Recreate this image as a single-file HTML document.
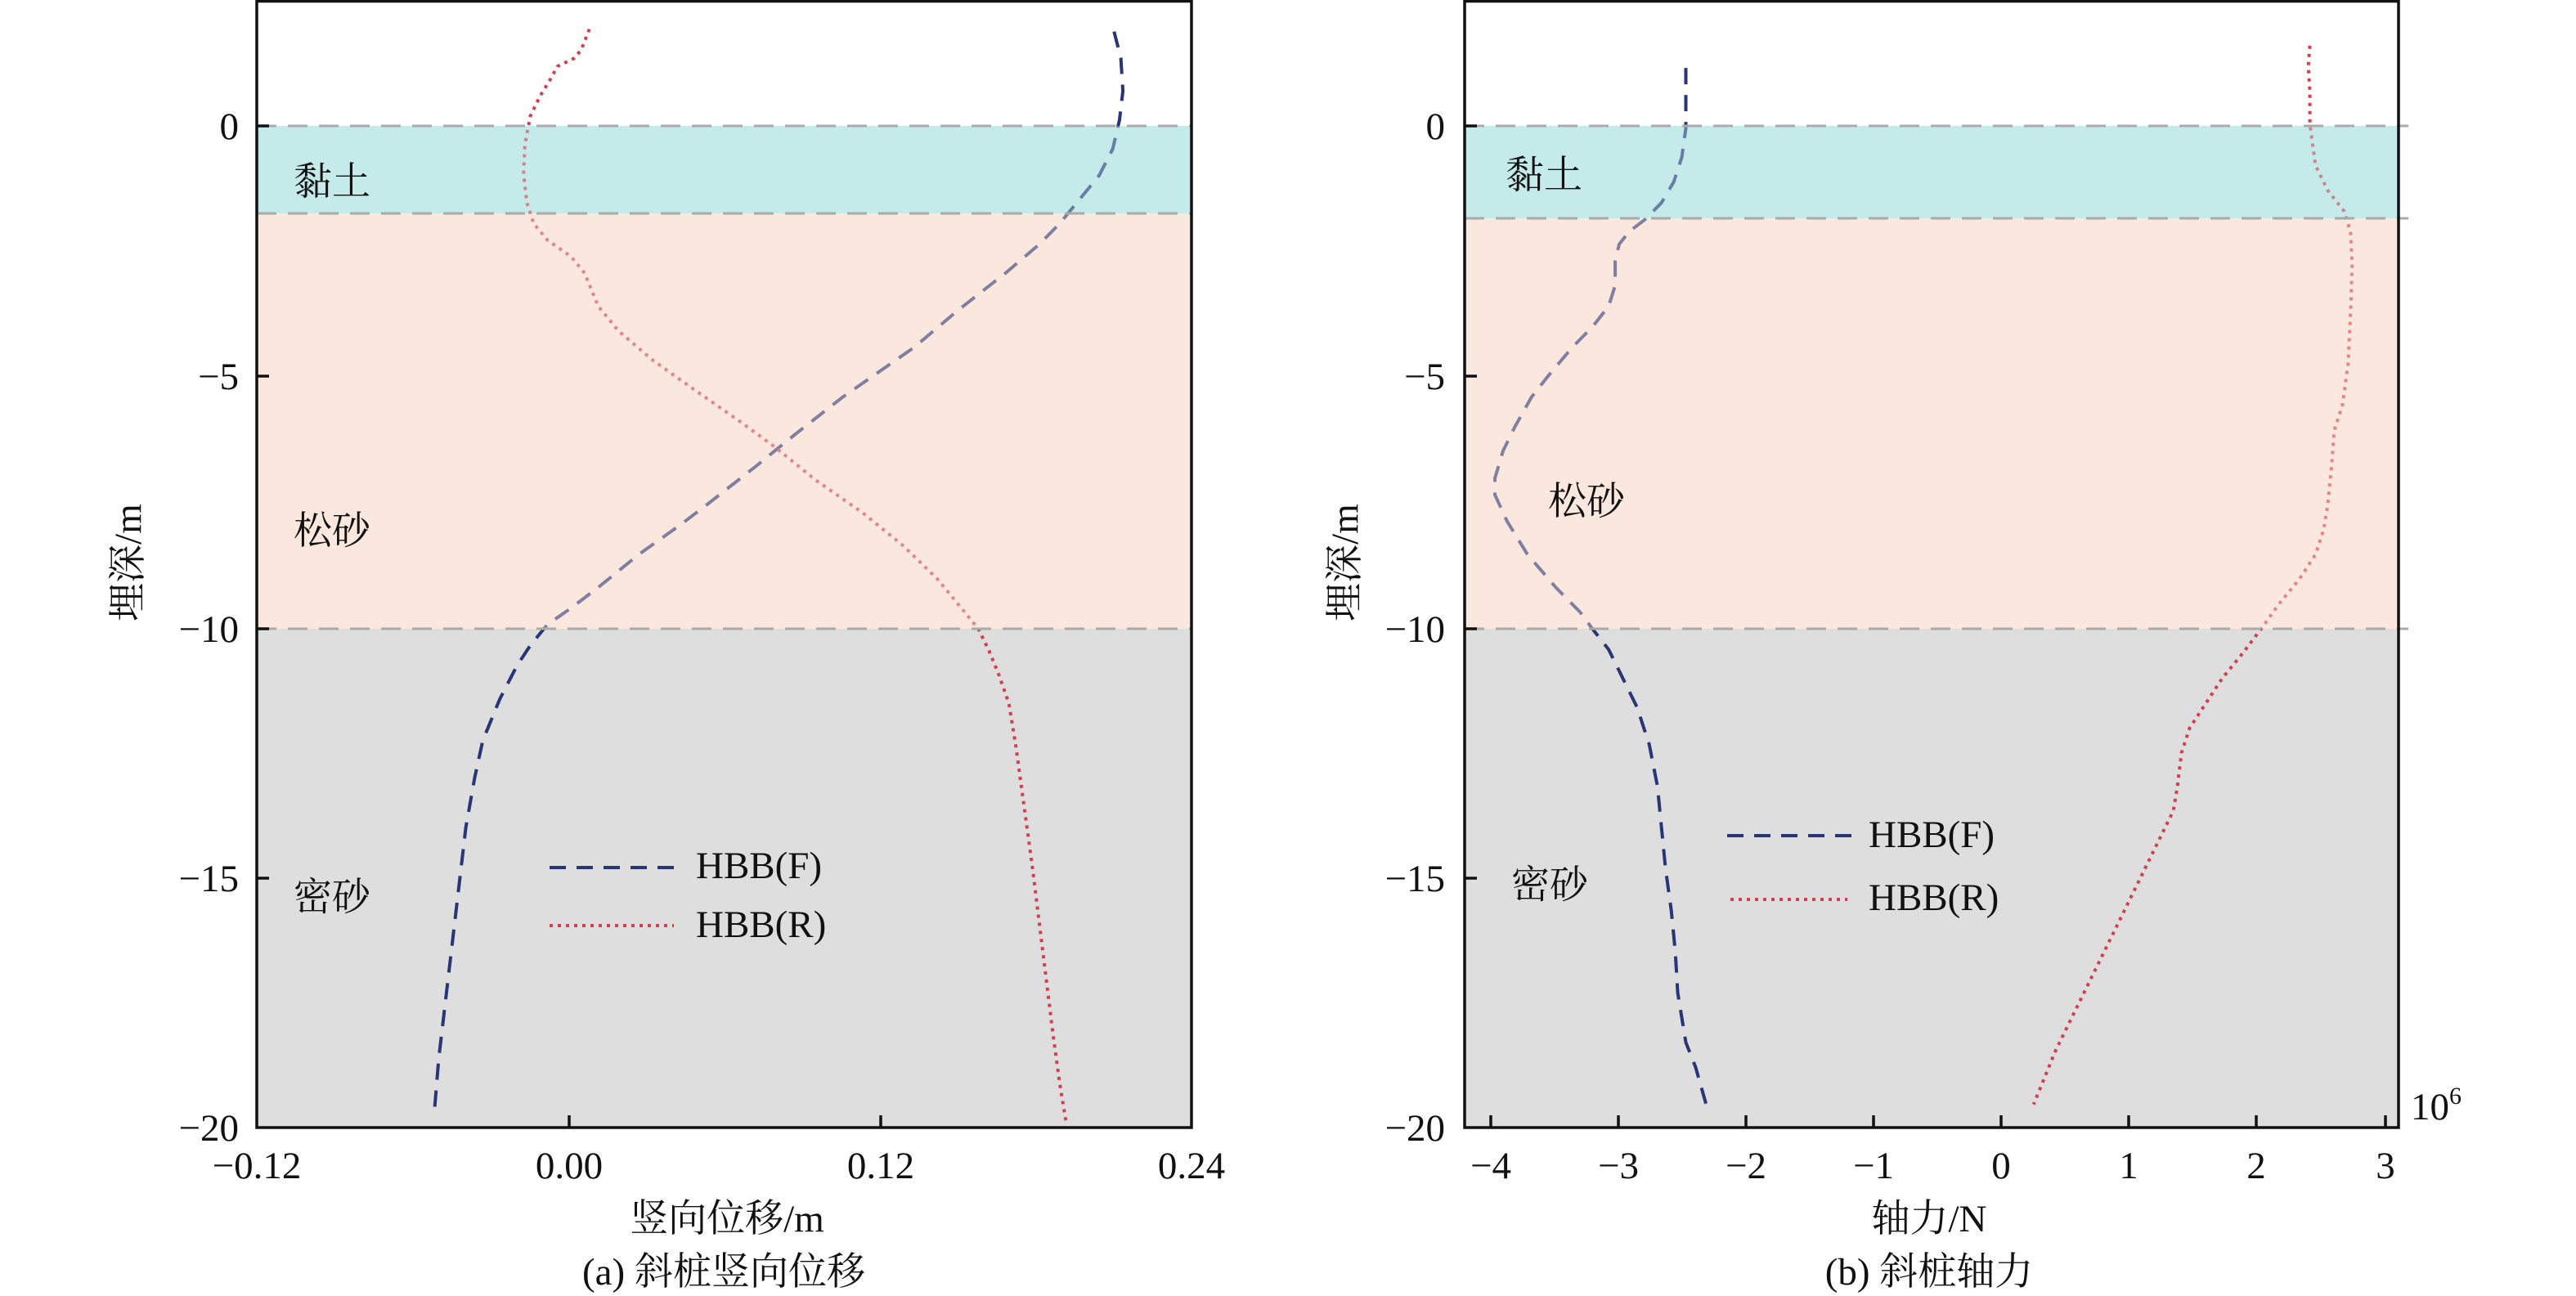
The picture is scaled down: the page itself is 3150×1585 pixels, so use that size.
<!DOCTYPE html>
<html><head><meta charset="utf-8"><style>
html,body{margin:0;padding:0;background:#fff;}
svg{display:block;}
text{font-family:"Liberation Serif","Noto Serif CJK SC",serif;fill:#111;}
</style></head><body>
<svg width="3150" height="1585" viewBox="0 0 3150 1585" xmlns="http://www.w3.org/2000/svg">
<!-- LEFT CHART -->
<rect x="314" y="2" width="1143" height="152" fill="#fff"/>
<rect x="314" y="154" width="1143" height="107" fill="#c5eaea"/>
<rect x="314" y="261" width="1143" height="508" fill="#fae7dd"/>
<rect x="314" y="769" width="1143" height="610" fill="#dedede"/>
<g transform="matrix(0.83 0 0 1.0116 200.3 0.2)" fill="none">
<polyline vector-effect="non-scaling-stroke" stroke="#2a3575" stroke-width="4" stroke-dasharray="20 13" points="1400,38 1410,70 1413,110 1408,145 1398,180 1378,212 1345,245 1320,270 1290,295 1240,330 1170,375 1105,420 1000,480 930,525 870,565 800,610 760,635 700,670 640,710 600,735 565,755 540,780 520,805 495,845 470,895 458,940 445,1000 435,1070 425,1140 415,1210 405,1280 398,1350"/>
<polyline vector-effect="non-scaling-stroke" stroke="#d04050" stroke-width="4" stroke-dasharray="4 6" points="627,35 615,60 605,70 580,80 570,95 555,115 540,140 532,175 530,210 535,245 545,270 565,290 600,310 620,330 640,370 670,400 720,435 780,470 850,510 900,540 960,580 1030,620 1090,660 1140,700 1175,735 1200,760 1215,785 1230,815 1245,850 1255,900 1265,960 1280,1050 1295,1150 1310,1250 1320,1310 1330,1360"/>
</g>
<rect x="314" y="154" width="1143" height="107" fill="#c5eaea" opacity="0.4"/>
<rect x="314" y="261" width="1143" height="508" fill="#fae7dd" opacity="0.42"/>
<g stroke="#aaa" stroke-width="3" stroke-dasharray="24 14">
<line x1="314" y1="154" x2="1457" y2="154"/><line x1="314" y1="261" x2="1457" y2="261"/><line x1="314" y1="769" x2="1457" y2="769"/>
</g>
<rect x="314" y="1.5" width="1143" height="1377.5" fill="none" stroke="#111" stroke-width="3.5"/>
<g stroke="#111" stroke-width="3.5">
<line x1="314" y1="154" x2="329" y2="154"/><line x1="314" y1="460" x2="329" y2="460"/><line x1="314" y1="769" x2="329" y2="769"/><line x1="314" y1="1074" x2="329" y2="1074"/>
<line x1="696" y1="1379" x2="696" y2="1364"/><line x1="1077" y1="1379" x2="1077" y2="1364"/>
</g>
<g font-size="47" text-anchor="end">
<text x="292" y="170">0</text><text x="292" y="476">−5</text><text x="292" y="785">−10</text><text x="292" y="1090">−15</text><text x="292" y="1395">−20</text>
</g>
<g font-size="47" text-anchor="middle">
<text x="314" y="1441">−0.12</text><text x="696" y="1441">0.00</text><text x="1077" y="1441">0.12</text><text x="1457" y="1441">0.24</text>
<text x="889" y="1506">竖向位移/m</text><text x="885" y="1571">(a) 斜桩竖向位移</text>
</g>
<text font-size="47" transform="translate(172,688) rotate(-90)" text-anchor="middle">埋深/m</text>
<g font-size="47"><text x="359" y="238">黏土</text><text x="359" y="665">松砂</text><text x="359" y="1113">密砂</text></g>
<line x1="672" y1="1061" x2="832" y2="1061" stroke="#2a3575" stroke-width="4" stroke-dasharray="20 13"/>
<line x1="672" y1="1132" x2="824" y2="1132" stroke="#d04050" stroke-width="4" stroke-dasharray="4 6"/>
<g font-size="47"><text x="851" y="1074">HBB(F)</text><text x="851" y="1146">HBB(R)</text></g>

<!-- RIGHT CHART -->
<rect x="1791" y="154" width="1142" height="113" fill="#c5eaea"/>
<rect x="1791" y="267" width="1142" height="502" fill="#fae7dd"/>
<rect x="1791" y="769" width="1142" height="610" fill="#dedede"/>
<g transform="matrix(0.9936 0 0 1.0116 1594.5 0.2)" fill="none">
<polyline vector-effect="non-scaling-stroke" stroke="#2a3575" stroke-width="4" stroke-dasharray="20 13" points="470,82 470,130 470,155 465,190 455,220 440,245 420,265 400,280 388,295 383,315 383,345 375,370 355,395 330,420 300,455 280,480 260,515 245,545 235,578 235,598 250,630 275,670 310,710 340,740 355,760 375,785 395,825 410,855 425,900 435,950 440,1000 445,1050 452,1100 457,1150 460,1200 470,1260 482,1290 495,1335"/>
<polyline vector-effect="non-scaling-stroke" stroke="#d04050" stroke-width="4" stroke-dasharray="4 6" points="1238,55 1236,80 1238,110 1238,150 1245,200 1260,230 1280,255 1288,280 1290,320 1288,380 1285,440 1278,490 1268,520 1265,560 1260,610 1255,640 1245,670 1225,700 1200,730 1178,760 1155,790 1130,820 1110,850 1090,880 1080,910 1075,950 1070,980 1060,1000 1045,1030 1025,1070 1000,1120 975,1170 950,1220 925,1270 898,1335"/>
</g>
<rect x="1791" y="154" width="1142" height="113" fill="#c5eaea" opacity="0.4"/>
<rect x="1791" y="267" width="1142" height="502" fill="#fae7dd" opacity="0.42"/>
<g stroke="#aaa" stroke-width="3" stroke-dasharray="24 14">
<line x1="1791" y1="154" x2="2945" y2="154"/><line x1="1791" y1="267" x2="2945" y2="267"/><line x1="1791" y1="769" x2="2945" y2="769"/>
</g>
<rect x="1791" y="1.5" width="1142" height="1377.5" fill="none" stroke="#111" stroke-width="3.5"/>
<g stroke="#111" stroke-width="3.5">
<line x1="1791" y1="154" x2="1806" y2="154"/><line x1="1791" y1="460" x2="1806" y2="460"/><line x1="1791" y1="769" x2="1806" y2="769"/><line x1="1791" y1="1074" x2="1806" y2="1074"/>
<line x1="1823" y1="1379" x2="1823" y2="1364"/><line x1="1979" y1="1379" x2="1979" y2="1364"/><line x1="2135" y1="1379" x2="2135" y2="1364"/><line x1="2291" y1="1379" x2="2291" y2="1364"/><line x1="2447" y1="1379" x2="2447" y2="1364"/><line x1="2603" y1="1379" x2="2603" y2="1364"/><line x1="2759" y1="1379" x2="2759" y2="1364"/><line x1="2917" y1="1379" x2="2917" y2="1364"/>
</g>
<g font-size="47" text-anchor="end">
<text x="1767" y="170">0</text><text x="1767" y="476">−5</text><text x="1767" y="785">−10</text><text x="1767" y="1090">−15</text><text x="1767" y="1395">−20</text>
</g>
<g font-size="47" text-anchor="middle">
<text x="1823" y="1441">−4</text><text x="1979" y="1441">−3</text><text x="2135" y="1441">−2</text><text x="2291" y="1441">−1</text><text x="2447" y="1441">0</text><text x="2603" y="1441">1</text><text x="2759" y="1441">2</text><text x="2917" y="1441">3</text>
<text x="2359" y="1506">轴力/N</text><text x="2359" y="1571">(b) 斜桩轴力</text>
</g>
<text x="2948" y="1369" font-size="47">10<tspan font-size="30" dy="-19">6</tspan></text>
<text font-size="47" transform="translate(1660,688) rotate(-90)" text-anchor="middle">埋深/m</text>
<g font-size="47"><text x="1841" y="230">黏土</text><text x="1893" y="629">松砂</text><text x="1848" y="1098">密砂</text></g>
<line x1="2112" y1="1022" x2="2264" y2="1022" stroke="#2a3575" stroke-width="4" stroke-dasharray="20 13"/>
<line x1="2116" y1="1100" x2="2259" y2="1100" stroke="#d04050" stroke-width="4" stroke-dasharray="4 6"/>
<g font-size="47"><text x="2285" y="1036">HBB(F)</text><text x="2285" y="1113">HBB(R)</text></g>
</svg>
</body></html>
